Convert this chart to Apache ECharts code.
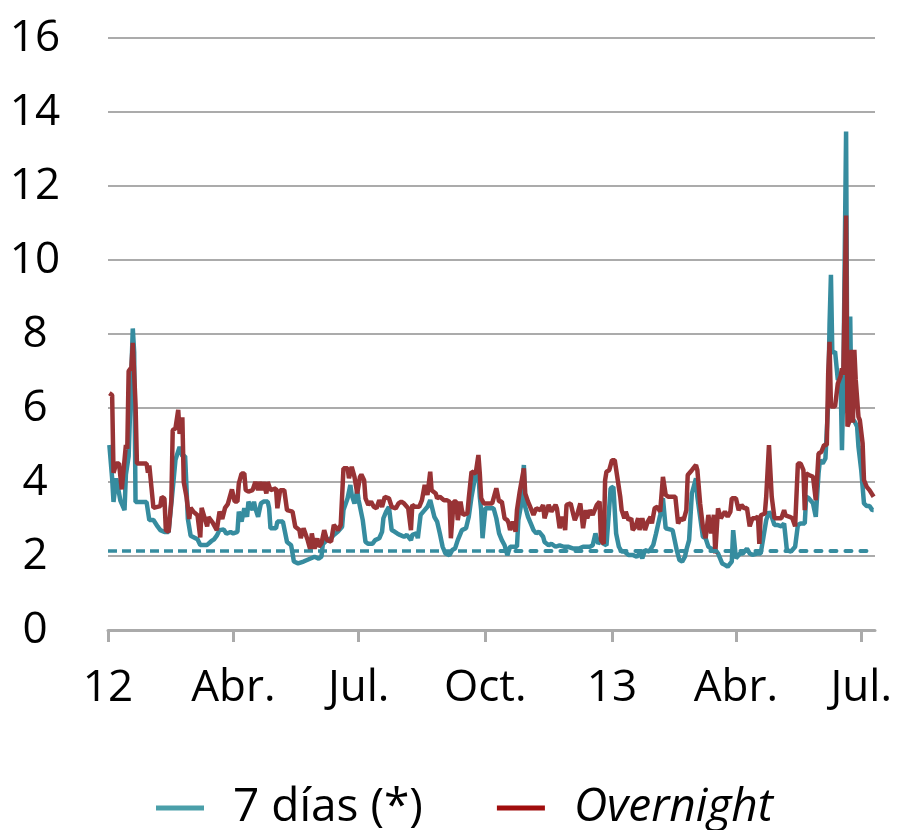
<!DOCTYPE html>
<html>
<head>
    <meta charset="utf-8">
    <title>Tipos de interés</title>
    <script src="https://cdn.jsdelivr.net/npm/echarts@6/dist/echarts.min.js"></script>
    <style>
        html, body { margin: 0; padding: 0; background: #fff; }
    </style>
</head>
<body>
    <div id="main" style="width: 902px;height:830px;"></div>
    <script type="text/javascript">

    // días contados desde el 1-ene-2012
    var diasSiete = [1,3,4,6,7,9,12,13,15,16,18,19,20,28,30,33,36,38,41,44,47,49,52,54,56,58,60,65,67,72,75,77,79,81,84,86,89,
        91,94,95,97,99,101,102,105,106,107,109,111,113,116,117,118,122,123,127,128,130,133,134,135,138,142,145,150,153,155,156,159,162,164,167,170,171,174,176,177,179,181,182,
        183,185,187,189,192,194,197,199,200,202,204,206,208,210,212,215,217,220,221,224,225,227,229,232,234,237,239,241,243,245,248,250,252,254,257,260,262,264,267,269,270,271,272,274,
        280,282,284,286,288,290,292,294,297,298,300,302,303,305,307,309,311,313,316,317,320,322,325,328,331,334,338,342,345,350,352,354,356,358,360,362,365,367,369,371,
        373,375,378,381,384,386,388,390,393,396,398,401,403,405,410,413,415,417,419,420,422,424,427,428,430,432,434,436,438,441,443,444,446,448,450,453,454,455,456,459,461,464,
        466,468,472,474,476,478,480,482,484,486,489,491,493,496,499,501,503,506,507,509,512,514,516,517,519,521,523,524,525,526,528,530,532,533,534,536,537,538,539,540,542,544,545,547,549,551,553,555,556];
    var siete = [5.0,4.1,3.46,4.1,4.1,3.5,3.24,4.2,4.7,4.7,8.15,7.5,3.46,3.46,2.97,2.97,2.8,2.7,2.65,2.65,3.8,4.6,4.95,4.7,4.7,3.0,2.55,2.45,2.3,2.3,2.4,2.45,2.55,2.7,2.72,2.6,2.65,
        2.61,2.65,3.2,2.93,3.29,3.06,3.47,3.24,3.47,3.29,3.06,3.42,3.47,3.47,3.29,2.75,2.75,2.93,2.93,2.88,2.38,2.29,2.07,1.85,1.8,1.85,1.9,1.98,1.93,1.98,2.32,2.43,2.48,2.57,2.66,2.79,3.24,3.56,3.92,3.65,3.42,3.78,3.51,
        3.5,2.97,2.38,2.33,2.33,2.43,2.48,2.65,3.02,3.2,3.33,2.7,2.66,2.61,2.57,2.52,2.57,2.43,2.57,2.61,2.48,3.11,3.2,3.33,3.51,3.06,2.93,2.61,2.25,2.07,2.02,2.16,2.2,2.43,2.7,2.75,3.06,3.6,4.23,4.23,3.6,3.24,2.48,3.29,
        3.29,3.02,2.61,2.43,2.29,2.02,2.25,2.25,2.25,2.97,3.38,4.46,3.33,3.06,2.88,2.7,2.61,2.66,2.52,2.38,2.29,2.33,2.25,2.29,2.25,2.25,2.2,2.2,2.25,2.25,2.29,2.61,2.33,2.43,2.33,2.29,3.83,3.87,2.61,2.25,
        2.12,2.12,2.03,2.03,1.98,2.07,1.94,2.16,2.12,2.3,2.61,3.11,3.56,2.75,2.7,2.16,1.89,1.85,1.98,2.16,2.43,3.69,4.1,3.6,3.06,2.52,2.48,2.25,2.2,2.16,2.07,2.07,1.8,1.76,1.71,1.85,2.7,2.7,1.94,2.07,2.07,2.2,
        2.07,2.03,2.07,2.07,2.52,2.97,3.2,3.06,2.84,2.84,2.8,2.88,2.16,2.12,2.25,2.84,2.88,2.88,3.6,3.56,3.42,3.06,4.23,4.59,4.5,4.64,6.13,8.28,9.6,7.48,7.53,6.76,6.8,4.86,6.6,13.47,5.86,6.2,8.47,5.68,5.65,5.5,4.95,4.32,3.42,3.35,3.35,3.24,3.24];

    var diasOvernight = [1,3,4,6,8,10,13,14,15,17,18,20,21,28,29,30,33,38,39,41,42,44,46,47,49,51,52,54,55,57,59,60,62,65,67,68,70,72,73,76,77,79,81,83,85,87,90,
        92,94,95,97,99,100,102,105,107,109,110,112,113,115,116,117,118,119,122,123,125,128,130,131,134,136,137,139,140,142,145,147,148,150,152,153,155,157,159,162,164,167,169,171,174,175,177,179,181,183,
        184,186,187,189,191,193,195,197,199,201,204,206,209,211,213,215,216,218,220,221,223,226,228,230,232,234,235,238,239,241,244,246,248,249,251,253,254,256,257,258,261,262,264,267,269,270,271,273,275,279,
        280,282,284,286,288,290,291,292,294,296,297,299,300,302,303,305,306,309,311,314,316,317,320,322,325,326,328,330,332,333,336,338,339,341,343,345,347,348,350,352,355,357,358,360,361,362,364,366,368,
        370,372,373,375,376,378,380,381,383,385,386,388,390,392,394,395,397,399,401,403,405,407,412,414,416,418,420,421,424,427,428,430,432,434,436,438,440,441,443,445,448,450,452,453,456,458,460,462,464,
        466,468,470,472,473,474,477,478,480,482,484,486,489,491,492,495,497,499,501,503,505,506,507,509,512,514,516,518,520,522,523,524,525,528,530,532,533,534,536,537,538,540,541,542,543,545,546,548,549,551,553,556];
    var overnight = [6.4,6.35,4.25,4.5,4.5,3.8,5.0,4.9,7.0,7.1,7.76,6.1,4.5,4.5,4.25,4.45,3.3,3.35,3.6,3.55,2.7,2.65,3.5,5.4,5.45,5.95,5.3,5.75,4.0,3.6,3.0,3.3,3.2,3.1,2.5,3.3,3.05,2.8,3.05,2.9,2.85,2.7,3.2,3.0,3.3,3.4,3.8,
        3.47,3.47,3.96,4.23,4.23,3.78,3.74,3.78,4.0,3.78,4.0,3.78,4.0,3.69,4.0,4.0,3.78,3.83,3.83,3.29,3.78,3.78,3.24,3.2,3.2,2.79,2.75,2.7,2.48,2.75,2.43,2.16,2.61,2.2,2.48,2.25,2.34,2.7,2.43,2.39,2.84,2.7,2.84,4.37,4.37,4.1,4.41,4.14,3.69,4.14,
        4.2,4.05,3.56,3.38,3.47,3.33,3.29,3.51,3.33,3.6,3.56,3.33,3.29,3.42,3.47,3.42,3.47,3.29,2.7,3.38,3.33,3.33,3.51,3.92,3.65,4.28,3.78,3.69,3.56,3.6,3.51,3.51,3.47,2.48,3.47,3.47,2.97,3.47,3.24,3.11,3.15,3.56,4.28,4.23,4.73,4.23,3.56,3.42,3.42,3.42,
        3.47,3.83,3.47,3.47,3.02,2.97,2.88,2.7,2.93,2.66,3.24,3.74,3.78,4.37,3.69,3.47,3.38,3.11,3.29,3.24,3.38,3.02,3.38,3.2,3.38,3.29,2.75,3.06,2.7,3.38,3.42,3.11,2.97,3.15,3.42,2.75,3.24,3.02,3.24,3.11,3.38,3.47,2.43,2.33,4.05,4.28,4.32,4.59,4.59,
        4.1,3.6,3.24,3.02,3.2,2.97,3.02,2.7,2.79,3.02,2.7,3.02,2.7,2.93,3.06,2.88,3.29,3.33,3.2,4.14,3.65,3.6,3.6,2.88,3.02,2.97,3.24,4.19,4.32,4.46,4.32,3.42,2.79,2.48,3.11,2.61,3.11,2.07,3.29,3.02,3.2,3.06,3.2,3.56,3.56,3.24,3.38,3.29,3.3,
        2.8,3.02,3.02,3.06,2.33,3.1,3.15,3.6,5.0,3.6,3.02,3.02,3.02,3.24,3.1,3.06,3.02,2.8,4.5,4.5,4.32,3.24,4.23,4.19,4.14,3.51,4.77,4.81,5.0,5.0,6.92,7.79,6.04,6.04,6.66,6.85,7.07,6.9,11.2,5.5,5.6,7.57,5.6,7.57,6.76,5.76,5.67,5.05,4.05,3.87,3.78,3.6];

    // referencia horizontal (punteada) y sus tramos en días
    var nivelReferencia = 2.13;
    var tramosReferencia = [[0, 285], [285, 557]];

    // marcas del eje x (inicio de trimestre) y sus etiquetas
    var marcasX = [0, 91, 182, 274, 366, 456, 547];
    var etiquetasX = ['12', 'Abr.', 'Jul.', 'Oct.', '13', 'Abr.', 'Jul.'];
    var diaFinal = 557;

    var colorSiete = '#368c9f';
    var colorOvernight = '#983335';
    var fuente = 'Open Sans';

    function pares(xs, ys) {
        return xs.map(function (d, i) { return [d, ys[i]]; });
    }

    var myChart = echarts.init(document.getElementById('main'));

    var option = {
        animation: false,
        textStyle: { fontFamily: fuente, color: '#000' },
        grid: { left: 108, right: 27, top: 38, bottom: 200 },
        legend: {
            top: 780,
            left: 151,
            icon: 'rect',
            itemWidth: 48,
            itemHeight: 5,
            itemGap: 74,
            textStyle: { fontFamily: fuente, fontSize: 46, color: '#000', padding: [0, 0, 0, 24] },
            data: [
                { name: '7 días (*)', itemStyle: { color: '#4a9fa9' } },
                { name: 'Overnight', itemStyle: { color: '#a00d0d' }, textStyle: { fontStyle: 'italic' } }
            ]
        },
        xAxis: {
            type: 'value',
            min: 0,
            max: diaFinal,
            splitLine: { show: false },
            axisLine: { lineStyle: { color: '#aaaaaa', width: 3 } },
            axisTick: { customValues: marcasX, length: 12, lineStyle: { color: '#aaaaaa', width: 3 } },
            axisLabel: {
                customValues: marcasX,
                fontSize: 44,
                color: '#000',
                margin: 36,
                formatter: function (v) { return etiquetasX[marcasX.indexOf(v)]; }
            }
        },
        yAxis: {
            type: 'value',
            min: 0,
            max: 16,
            interval: 2,
            axisLine: { show: false },
            axisTick: { show: false },
            axisLabel: { fontSize: 44, color: '#000', align: 'center', margin: 73, padding: [0, 0, 10, 0] },
            splitLine: { lineStyle: { color: '#ababab', width: 2 } }
        },
        series: [
            {
                name: '7 días (*)',
                type: 'line',
                showSymbol: false,
                data: pares(diasSiete, siete),
                itemStyle: { color: colorSiete },
                lineStyle: { color: colorSiete, width: 4.5 },
                markLine: {
                    silent: true,
                    symbol: 'none',
                    label: { show: false },
                    data: [
                        [{ coord: [tramosReferencia[0][0], nivelReferencia], lineStyle: { color: colorSiete, width: 3.5, type: [9, 5] } },
                         { coord: [tramosReferencia[0][1], nivelReferencia] }],
                        [{ coord: [tramosReferencia[1][0], nivelReferencia], lineStyle: { color: colorSiete, width: 4, type: [6, 9], cap: 'round' } },
                         { coord: [tramosReferencia[1][1], nivelReferencia] }]
                    ]
                }
            },
            {
                name: 'Overnight',
                type: 'line',
                showSymbol: false,
                data: pares(diasOvernight, overnight),
                itemStyle: { color: colorOvernight },
                lineStyle: { color: colorOvernight, width: 4.5 }
            }
        ]
    };

    myChart.setOption(option);
    </script>
</body>
</html>
